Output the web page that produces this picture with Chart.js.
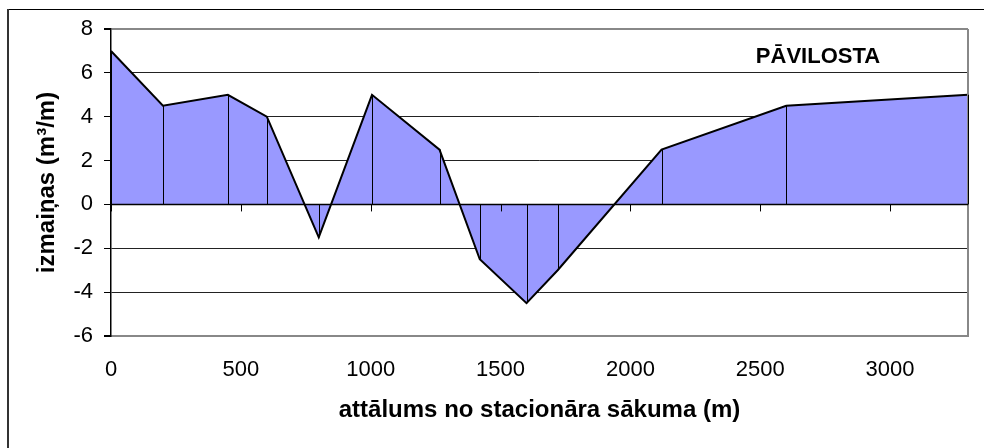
<!DOCTYPE html>
<html>
<head>
<meta charset="utf-8">
<script src="https://cdn.jsdelivr.net/npm/chart.js@4.4.1/dist/chart.umd.min.js"></script>
<style>
  html, body { margin: 0; padding: 0; background: #fff; }
  #wrap { width: 984px; height: 448px; }
</style>
</head>
<body>
<div id="wrap"><canvas id="chart"></canvas></div>
<script>
    "use strict";

    // Data
    var distances = [0, 200, 450, 600, 800, 1005, 1265, 1420, 1600, 1720, 2120, 2600, 3300];
    var changes = [7, 4.5, 5, 4, -1.5, 5, 2.5, -2.5, -4.5, -3, 2.5, 4.5, 5];
    var yTicks = [-6, -4, -2, 0, 2, 4, 6, 8];
    var xTicks = [0, 500, 1000, 1500, 2000, 2500, 3000];

    var fontFamily = "'Liberation Sans', Arial, sans-serif";

    // Frame, zero line, drop lines, station label
    var extras = {
        id: 'extras',
        afterDatasetsDraw: function (chart) {
            var ctx = chart.ctx;
            var area = chart.chartArea;
            var xs = chart.scales.x;
            var ys = chart.scales.y;
            var y0 = ys.getPixelForValue(0);

            ctx.save();
            // plot frame (right side)
            ctx.strokeStyle = '#888';
            ctx.lineWidth = 2;
            ctx.beginPath();
            ctx.moveTo(area.right, area.top);
            ctx.lineTo(area.right, area.bottom);
            ctx.stroke();

            // drop lines
            ctx.strokeStyle = '#000';
            ctx.lineWidth = 1;
            var meta = chart.getDatasetMeta(0);
            meta.data.forEach(function (pt) {
                ctx.beginPath();
                ctx.moveTo(Math.round(pt.x) + 0.5, pt.y);
                ctx.lineTo(Math.round(pt.x) + 0.5, y0);
                ctx.stroke();
            });

            // zero line with tick marks
            ctx.lineWidth = 1.5;
            ctx.beginPath();
            ctx.moveTo(area.left, y0);
            ctx.lineTo(area.right, y0);
            ctx.stroke();
            ctx.lineWidth = 1;
            xs.ticks.forEach(function (t) {
                var px = Math.round(xs.getPixelForValue(t.value)) + 0.5;
                ctx.beginPath();
                ctx.moveTo(px, y0);
                ctx.lineTo(px, y0 + 7);
                ctx.stroke();
            });

            // station name
            ctx.fillStyle = '#000';
            ctx.font = 'bold 22px ' + fontFamily;
            ctx.textAlign = 'center';
            ctx.textBaseline = 'alphabetic';
            ctx.fillText('PĀVILOSTA', area.right - 150, area.top + 34);
            ctx.restore();
        },
        afterDraw: function (chart) {
            // outer border (top and left edges only)
            var ctx = chart.ctx;
            ctx.save();
            ctx.strokeStyle = '#000';
            ctx.lineWidth = 1;
            ctx.beginPath();
            ctx.moveTo(8, 9.5);
            ctx.lineTo(chart.width, 9.5);
            ctx.stroke();
            ctx.strokeStyle = '#333';
            ctx.lineWidth = 2;
            ctx.beginPath();
            ctx.moveTo(8, 9);
            ctx.lineTo(8, chart.height);
            ctx.stroke();
            ctx.restore();
        }
    };

    var plainNumber = function (value) {
        return String(value);
    };

    var ctx1 = document.getElementById('chart').getContext('2d');
    var myChart1 = new Chart(ctx1, {
        type: 'line',
        data: {
            datasets: [{
                data: distances.map(function (d, i) { return {x: d, y: changes[i]}; }),
                borderColor: '#000',
                borderWidth: 2,
                backgroundColor: '#9999FF',
                fill: 'origin',
                tension: 0,
                pointRadius: 0
            }]
        },
        options: {
            responsive: true,
            maintainAspectRatio: false,
            animation: false,
            layout: {
                padding: {top: 29, right: 16, bottom: 0, left: 0}
            },
            plugins: {
                legend: {display: false},
                tooltip: {enabled: false}
            },
            scales: {
                x: {
                    type: 'linear',
                    min: 0,
                    max: 3300,
                    afterBuildTicks: function (scale) {
                        scale.ticks = xTicks.map(function (v) { return {value: v}; });
                    },
                    afterFit: function (scale) { scale.height = 112; },
                    grid: {display: false, drawTicks: false},
                    border: {display: true, color: '#888', width: 2},
                    ticks: {
                        color: '#000',
                        padding: 21,
                        maxRotation: 0,
                        callback: plainNumber,
                        font: {family: fontFamily, size: 22}
                    },
                    title: {
                        display: true,
                        text: 'attālums no stacionāra sākuma (m)',
                        color: '#000',
                        padding: {top: 0, bottom: 23},
                        font: {family: fontFamily, size: 24, weight: 'bold'}
                    }
                },
                y: {
                    min: -6,
                    max: 8,
                    afterBuildTicks: function (scale) {
                        scale.ticks = yTicks.map(function (v) { return {value: v}; });
                    },
                    afterFit: function (scale) { scale.width = 111; },
                    grid: {
                        color: function (c) {
                            var v = c.tick.value;
                            if (v === 8 || v === -6) return '#888';
                            return '#222';
                        },
                        lineWidth: function (c) {
                            var v = c.tick.value;
                            return (v === 8 || v === -6) ? 2 : 1;
                        },
                        tickColor: '#000',
                        tickLength: 7
                    },
                    border: {display: true, color: '#000', width: 1.5},
                    ticks: {
                        color: '#000',
                        padding: 11,
                        callback: plainNumber,
                        font: {family: fontFamily, size: 22}
                    },
                    title: {
                        display: true,
                        text: 'izmaiņas (m³/m)',
                        color: '#000',
                        padding: {top: 33, bottom: 0},
                        font: {family: fontFamily, size: 24, weight: 'bold'}
                    }
                }
            }
        },
        plugins: [extras]
    });
</script>
</body>
</html>
